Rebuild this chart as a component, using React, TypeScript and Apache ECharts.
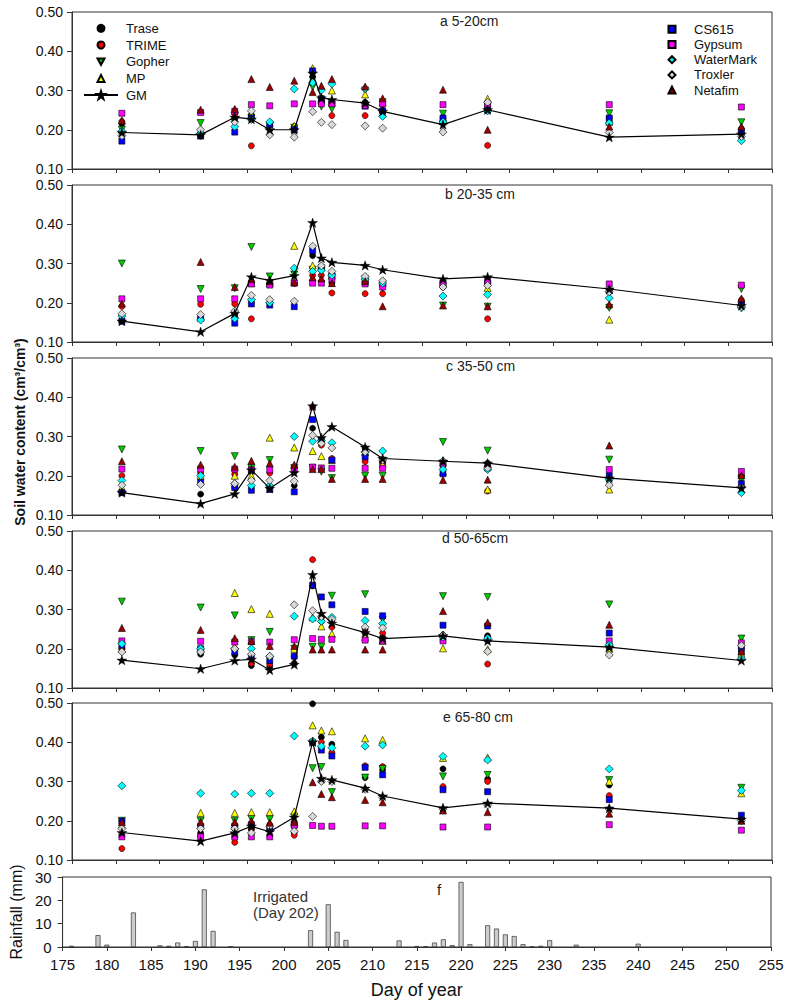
import { useEffect, useRef } from "react";
import * as echarts from "echarts";

// measurement days (read on the upper panels' own axis)
const days = [180.7, 189.7, 193.6, 195.5, 197.6, 200.4, 202.5, 203.5, 204.7, 208.5, 210.5, 217.4, 222.5, 236.4, 251.5];

const depthLabels = ["a 5-20cm", "b 20-35 cm", "c 35-50 cm", "d 50-65cm", "e 65-80 cm"];

// one row per depth (a..e), one value per measurement day
const trase = [
  [0.215, 0.183, 0.23, 0.238, 0.21, 0.208, 0.335, 0.28, 0.27, 0.27, 0.25, 0.23, 0.26, 0.23, 0.19],
  [0.155, 0.16, 0.17, 0.25, 0.25, 0.25, 0.32, 0.286, 0.25, 0.26, 0.25, 0.25, 0.25, 0.23, 0.2],
  [0.16, 0.153, 0.17, 0.21, 0.17, 0.175, 0.321, 0.29, 0.24, 0.27, 0.236, 0.23, 0.232, 0.194, 0.2],
  [0.2, 0.186, 0.184, 0.157, 0.154, 0.163, 0.36, 0.28, 0.272, 0.25, 0.23, 0.235, 0.233, 0.2, 0.19],
  [0.2, 0.169, 0.18, 0.18, 0.18, 0.17, 0.498, 0.413, 0.395, 0.31, 0.33, 0.332, 0.306, 0.291, 0.205],
];
const trime = [
  [0.221, 0.186, 0.24, 0.159, 0.2, 0.205, 0.317, 0.27, 0.236, 0.236, 0.245, 0.22, 0.16, 0.22, 0.203],
  [0.191, 0.196, 0.197, 0.159, 0.25, 0.25, 0.27, 0.27, 0.225, 0.223, 0.223, 0.24, 0.159, 0.191, 0.207],
  [0.2, 0.207, 0.204, 0.22, 0.207, 0.22, 0.375, 0.278, 0.244, 0.236, 0.23, 0.225, 0.161, 0.19, 0.2],
  [0.2, 0.2, 0.2, 0.163, 0.16, 0.18, 0.427, 0.27, 0.255, 0.24, 0.24, 0.23, 0.161, 0.21, 0.2],
  [0.129, 0.16, 0.145, 0.18, 0.19, 0.163, 0.4, 0.4, 0.374, 0.34, 0.338, 0.287, 0.3, 0.264, 0.2],
];
const gopher = [
  [0.2, 0.217, 0.22, 0.23, 0.21, 0.205, 0.309, 0.259, 0.253, 0.3, 0.27, 0.241, 0.26, 0.242, 0.219],
  [0.3, 0.235, 0.237, 0.342, 0.267, 0.272, 0.284, 0.28, 0.265, 0.26, 0.238, 0.193, 0.19, 0.187, 0.235],
  [0.267, 0.263, 0.25, 0.22, 0.24, 0.22, 0.22, 0.21, 0.194, 0.2, 0.2, 0.286, 0.264, 0.241, 0.19],
  [0.32, 0.305, 0.285, 0.222, 0.243, 0.2, 0.205, 0.205, 0.335, 0.339, 0.274, 0.334, 0.332, 0.313, 0.226],
  [0.2, 0.2, 0.2, 0.205, 0.204, 0.21, 0.334, 0.337, 0.273, 0.31, 0.332, 0.313, 0.317, 0.304, 0.284],
];
const mp = [
  [0.2, 0.2, 0.25, 0.24, 0.21, 0.21, 0.357, 0.28, 0.3, 0.29, 0.27, 0.23, 0.279, 0.22, 0.2],
  [0.16, 0.165, 0.17, 0.25, 0.25, 0.345, 0.295, 0.29, 0.269, 0.26, 0.25, 0.25, 0.238, 0.157, 0.2],
  [0.17, 0.2, 0.2, 0.2, 0.297, 0.272, 0.263, 0.25, 0.24, 0.26, 0.23, 0.21, 0.165, 0.165, 0.179],
  [0.2, 0.2, 0.342, 0.301, 0.289, 0.2, 0.28, 0.257, 0.238, 0.23, 0.22, 0.201, 0.199, 0.2, 0.187],
  [0.19, 0.22, 0.22, 0.222, 0.222, 0.224, 0.443, 0.43, 0.428, 0.41, 0.406, 0.36, 0.361, 0.3, 0.27],
];
const gm = [
  [0.193, 0.187, 0.232, 0.227, 0.2, 0.2, 0.344, 0.281, 0.277, 0.268, 0.247, 0.213, 0.251, 0.181, 0.189],
  [0.153, 0.126, 0.173, 0.266, 0.257, 0.269, 0.404, 0.314, 0.303, 0.295, 0.284, 0.261, 0.266, 0.235, 0.193],
  [0.157, 0.129, 0.154, 0.215, 0.168, 0.208, 0.378, 0.297, 0.325, 0.273, 0.244, 0.237, 0.232, 0.194, 0.169],
  [0.171, 0.149, 0.17, 0.173, 0.146, 0.16, 0.389, 0.29, 0.265, 0.241, 0.226, 0.233, 0.22, 0.204, 0.17],
  [0.17, 0.148, 0.169, 0.186, 0.172, 0.209, 0.401, 0.308, 0.304, 0.283, 0.263, 0.233, 0.245, 0.232, 0.204],
];
const cs615 = [
  [0.171, 0.185, 0.194, 0.23, 0.213, 0.2, 0.35, 0.279, 0.27, 0.26, 0.248, 0.23, 0.25, 0.23, 0.195],
  [0.153, 0.16, 0.148, 0.197, 0.194, 0.19, 0.333, 0.29, 0.27, 0.26, 0.25, 0.25, 0.25, 0.23, 0.197],
  [0.157, 0.183, 0.17, 0.163, 0.165, 0.159, 0.343, 0.29, 0.24, 0.248, 0.24, 0.205, 0.22, 0.2, 0.18],
  [0.209, 0.2, 0.192, 0.18, 0.17, 0.181, 0.362, 0.332, 0.312, 0.295, 0.284, 0.26, 0.258, 0.24, 0.2],
  [0.199, 0.186, 0.186, 0.19, 0.18, 0.19, 0.4, 0.38, 0.365, 0.336, 0.317, 0.279, 0.274, 0.254, 0.214],
];
const gypsum = [
  [0.242, 0.244, 0.247, 0.264, 0.261, 0.266, 0.266, 0.266, 0.266, 0.262, 0.266, 0.264, 0.265, 0.264, 0.258],
  [0.21, 0.21, 0.21, 0.248, 0.245, 0.25, 0.25, 0.25, 0.26, 0.248, 0.24, 0.249, 0.255, 0.248, 0.245],
  [0.217, 0.217, 0.217, 0.215, 0.215, 0.218, 0.222, 0.22, 0.219, 0.219, 0.219, 0.23, 0.22, 0.216, 0.211],
  [0.22, 0.219, 0.217, 0.218, 0.217, 0.223, 0.226, 0.224, 0.224, 0.222, 0.22, 0.22, 0.225, 0.22, 0.215],
  [0.159, 0.159, 0.159, 0.159, 0.159, 0.188, 0.188, 0.186, 0.186, 0.187, 0.187, 0.184, 0.184, 0.19, 0.176],
];
const waterMark = [
  [0.196, 0.19, 0.208, 0.226, 0.22, 0.304, 0.32, 0.301, 0.317, 0.305, 0.234, 0.22, 0.248, 0.217, 0.172],
  [0.166, 0.156, 0.16, 0.208, 0.2, 0.288, 0.28, 0.283, 0.27, 0.26, 0.25, 0.217, 0.221, 0.212, 0.187],
  [0.188, 0.2, 0.18, 0.175, 0.175, 0.3, 0.288, 0.29, 0.284, 0.26, 0.263, 0.216, 0.216, 0.19, 0.157],
  [0.213, 0.2, 0.2, 0.2, 0.18, 0.283, 0.276, 0.27, 0.28, 0.272, 0.264, 0.23, 0.227, 0.21, 0.174],
  [0.289, 0.27, 0.268, 0.27, 0.27, 0.416, 0.403, 0.39, 0.386, 0.39, 0.393, 0.364, 0.355, 0.332, 0.277],
];
const troxler = [
  [0.185, 0.2, 0.22, 0.248, 0.187, 0.181, 0.246, 0.219, 0.213, 0.21, 0.204, 0.194, 0.27, 0.193, 0.183],
  [0.172, 0.17, 0.179, 0.219, 0.208, 0.204, 0.344, 0.294, 0.28, 0.267, 0.256, 0.24, 0.244, 0.228, 0.19],
  [0.176, 0.178, 0.18, 0.188, 0.188, 0.186, 0.303, 0.283, 0.271, 0.261, 0.24, 0.238, 0.22, 0.176, 0.17],
  [0.192, 0.192, 0.2, 0.186, 0.181, 0.312, 0.297, 0.282, 0.275, 0.255, 0.253, 0.235, 0.193, 0.184, 0.208],
  [0.18, 0.18, 0.18, 0.169, 0.186, 0.173, 0.211, 0.3, 0.3, 0.28, 0.26, 0.23, 0.24, 0.23, 0.2],
];
const netafim = [
  [0.224, 0.251, 0.253, 0.329, 0.309, 0.325, 0.296, 0.312, 0.329, 0.31, 0.28, 0.302, 0.2, 0.208, 0.208],
  [0.198, 0.304, 0.24, 0.26, 0.255, 0.252, 0.265, 0.262, 0.25, 0.255, 0.191, 0.193, 0.191, 0.196, 0.211],
  [0.237, 0.228, 0.223, 0.238, 0.232, 0.228, 0.217, 0.217, 0.192, 0.192, 0.192, 0.189, 0.19, 0.277, 0.201],
  [0.253, 0.248, 0.227, 0.22, 0.207, 0.207, 0.198, 0.198, 0.198, 0.198, 0.198, 0.296, 0.267, 0.261, 0.193],
  [0.197, 0.197, 0.197, 0.2, 0.195, 0.197, 0.298, 0.268, 0.26, 0.253, 0.247, 0.226, 0.222, 0.218, 0.2],
];

// daily rainfall (panel f)
const rainDays = [176, 179, 180, 183, 186, 187, 188, 189, 190, 191, 192, 194, 203, 205, 206, 207, 213, 215, 216, 217, 218, 219, 220, 221, 223, 224, 225, 226, 227, 228, 229, 230, 233, 240];
const rainMm = [0.5, 5.1, 1.0, 14.8, 0.7, 0.5, 1.9, 0.3, 2.6, 24.7, 6.9, 0.2, 7.2, 18.3, 6.5, 3.0, 2.8, 0.4, 0.25, 1.9, 3.3, 0.8, 27.9, 1.2, 9.3, 7.9, 5.4, 4.7, 1.2, 0.2, 0.5, 2.9, 1.0, 1.4];

const leftLegend = ["Trase", "TRIME", "Gopher", "MP"];
const lineLegend = ["GM"];
const rightLegend = ["CS615", "Gypsum", "WaterMark", "Troxler", "Netafim"];

const STAR =
  "path://M50,2 L61.8,36.3 L97.6,36.3 L68.6,57.5 L79.4,91.7 L50,70.8 L20.6,91.7 L31.4,57.5 L2.4,36.3 L38.2,36.3 Z";
const DOWN_TRIANGLE = "path://M0,0 L10,0 L5,9 Z";

const probes = [
  { name: "Trase", values: trase, symbol: "circle", size: 6, color: "#000000", rotate: 0 },
  { name: "TRIME", values: trime, symbol: "circle", size: 6, color: "#ff0000", rotate: 0 },
  { name: "Gopher", values: gopher, symbol: "triangle", size: 7, color: "#00cc00", rotate: 180 },
  { name: "MP", values: mp, symbol: "triangle", size: 7, color: "#ffff00", rotate: 0 },
  { name: "CS615", values: cs615, symbol: "rect", size: 6, color: "#0000ff", rotate: 0 },
  { name: "Gypsum", values: gypsum, symbol: "rect", size: 6, color: "#ff00ff", rotate: 0 },
  { name: "WaterMark", values: waterMark, symbol: "diamond", size: 8, color: "#00ffff", rotate: 0 },
  { name: "Troxler", values: troxler, symbol: "diamond", size: 8, color: "#d8d8d8", rotate: 0 },
  { name: "Netafim", values: netafim, symbol: "triangle", size: 7, color: "#990000", rotate: 0 },
];

const FONT = "'Liberation Sans', Arial, Helvetica, sans-serif";
const INK = "#111";
const FRAME = "#333";

const panelTops = [12, 185, 358, 531, 703];
const titlePos = [
  [440, 14],
  [445, 187],
  [446, 359],
  [442, 531],
  [443, 710],
];

const App = () => {
  const chartRef = useRef<HTMLDivElement>(null);

  useEffect(() => {
    if (!chartRef.current) return;
    const chart = echarts.init(chartRef.current, null, { renderer: "svg" });

    const grid: any[] = [];
    const xAxis: any[] = [];
    const yAxis: any[] = [];
    const series: any[] = [];

    panelTops.forEach((top, p) => {
      grid.push({
        left: 72,
        right: 19,
        top,
        height: 157,
        show: true,
        borderColor: FRAME,
        borderWidth: 1,
        backgroundColor: "transparent",
      });
      xAxis.push({
        gridIndex: p,
        type: "value",
        min: 175,
        max: 255,
        interval: 5,
        axisLine: { show: true, lineStyle: { color: FRAME, width: 1 } },
        axisTick: { show: true, length: 4, lineStyle: { color: FRAME } },
        axisLabel: { show: false },
        splitLine: { show: false },
      });
      yAxis.push({
        gridIndex: p,
        type: "value",
        min: 0.1,
        max: 0.5,
        interval: 0.1,
        axisLine: { show: true, lineStyle: { color: FRAME, width: 1 } },
        axisTick: { show: true, length: 5, lineStyle: { color: FRAME } },
        axisLabel: {
          color: INK,
          fontSize: 14,
          fontFamily: FONT,
          margin: 9,
          formatter: (v: number) => v.toFixed(2),
        },
        splitLine: { show: false },
      });

      probes.forEach((pr) => {
        series.push({
          name: pr.name,
          type: "scatter",
          xAxisIndex: p,
          yAxisIndex: p,
          symbol: pr.symbol,
          symbolSize: pr.size,
          symbolRotate: pr.rotate,
          itemStyle: { color: pr.color, borderColor: "#000", borderWidth: 0.6, opacity: 1 },
          data: days.map((d, i) => [d, pr.values[p][i]]),
          z: 3,
        });
      });

      series.push({
        name: "GM",
        type: "line",
        xAxisIndex: p,
        yAxisIndex: p,
        symbol: STAR,
        symbolSize: 10,
        symbolKeepAspect: true,
        showAllSymbol: true,
        lineStyle: { color: "#000", width: 1.2 },
        itemStyle: { color: "#000", borderColor: "#000", borderWidth: 0.4 },
        data: days.map((d, i) => [d, gm[p][i]]),
        z: 4,
      });
    });

    // rainfall panel
    grid.push({
      left: 58,
      right: 20,
      top: 877,
      height: 72,
      show: true,
      borderColor: FRAME,
      borderWidth: 1,
      backgroundColor: "transparent",
    });
    xAxis.push({
      gridIndex: 5,
      type: "value",
      min: 175,
      max: 255,
      interval: 5,
      name: "Day of year",
      nameLocation: "middle",
      nameGap: 34,
      nameTextStyle: { color: INK, fontSize: 18, fontFamily: FONT },
      axisLine: { show: true, lineStyle: { color: FRAME, width: 1 } },
      axisTick: { show: true, length: 4, lineStyle: { color: FRAME } },
      axisLabel: { color: INK, fontSize: 15, fontFamily: FONT, margin: 10 },
      splitLine: { show: false },
    });
    yAxis.push({
      gridIndex: 5,
      type: "value",
      min: 0,
      max: 30,
      interval: 10,
      name: "Rainfall (mm)",
      nameLocation: "middle",
      nameRotate: 90,
      nameGap: 30,
      nameTextStyle: { color: INK, fontSize: 16, fontFamily: FONT },
      axisLine: { show: true, lineStyle: { color: FRAME, width: 1 } },
      axisTick: { show: true, length: 5, lineStyle: { color: FRAME } },
      axisLabel: { color: INK, fontSize: 15, fontFamily: FONT, margin: 11 },
      splitLine: { show: false },
    });
    series.push({
      name: "Rainfall",
      type: "bar",
      xAxisIndex: 5,
      yAxisIndex: 5,
      barWidth: 5,
      itemStyle: { color: "#cccccc", borderColor: "#333", borderWidth: 0.7 },
      data: rainDays.map((d, i) => [d, rainMm[i]]),
    });

    const graphic: any[] = depthLabels.map((t, p) => ({
      type: "text",
      x: titlePos[p][0],
      y: titlePos[p][1],
      style: { text: t, fill: "#222", fontSize: 14, fontFamily: FONT },
    }));
    graphic.push(
      {
        type: "text",
        x: 20,
        y: 432,
        rotation: Math.PI / 2,
        style: {
          text: "Soil water content (cm³/cm³)",
          fill: INK,
          fontSize: 14,
          fontWeight: "bold",
          fontFamily: FONT,
          align: "center",
          verticalAlign: "middle",
        },
      },
      {
        type: "text",
        x: 253,
        y: 889,
        style: { text: "Irrigated", fill: "#333", fontSize: 15, fontFamily: FONT },
      },
      {
        type: "text",
        x: 253,
        y: 905,
        style: { text: "(Day 202)", fill: "#333", fontSize: 15, fontFamily: FONT },
      },
      {
        type: "text",
        x: 437,
        y: 882,
        style: { text: "f", fill: "#222", fontSize: 15, fontFamily: FONT },
      }
    );

    const legendText = (pad: number) => ({
      color: INK,
      fontSize: 13,
      lineHeight: 14,
      fontFamily: FONT,
      padding: [0, 0, 0, pad],
    });

    const option: echarts.EChartsOption = {
      animation: false,
      backgroundColor: "#ffffff",
      textStyle: { fontFamily: FONT },
      grid,
      xAxis,
      yAxis,
      series,
      graphic,
      legend: [
        {
          data: leftLegend.map((n) =>
            n === "Gopher" ? { name: n, icon: DOWN_TRIANGLE } : { name: n }
          ),
          orient: "vertical",
          left: 96.5,
          top: 21.3,
          padding: 0,
          itemWidth: 7,
          itemHeight: 7,
          itemGap: 2.7,
          selectedMode: false,
          textStyle: legendText(16.5),
        },
        {
          data: lineLegend,
          orient: "vertical",
          left: 83,
          top: 88,
          padding: 0,
          itemWidth: 34,
          itemHeight: 10,
          itemGap: 0,
          selectedMode: false,
          textStyle: legendText(3),
        },
        {
          data: rightLegend,
          orient: "vertical",
          left: 667.5,
          top: 22.3,
          padding: 0,
          itemWidth: 7,
          itemHeight: 7,
          itemGap: 1.2,
          selectedMode: false,
          textStyle: legendText(13.5),
        },
      ],
    };

    chart.setOption(option);

    return () => {
      chart.dispose();
    };
  }, []);

  return (
    <div
      ref={chartRef}
      style={{ position: "absolute", left: 0, top: 0, width: 791, height: 1000 }}
    />
  );
};

export default App;
